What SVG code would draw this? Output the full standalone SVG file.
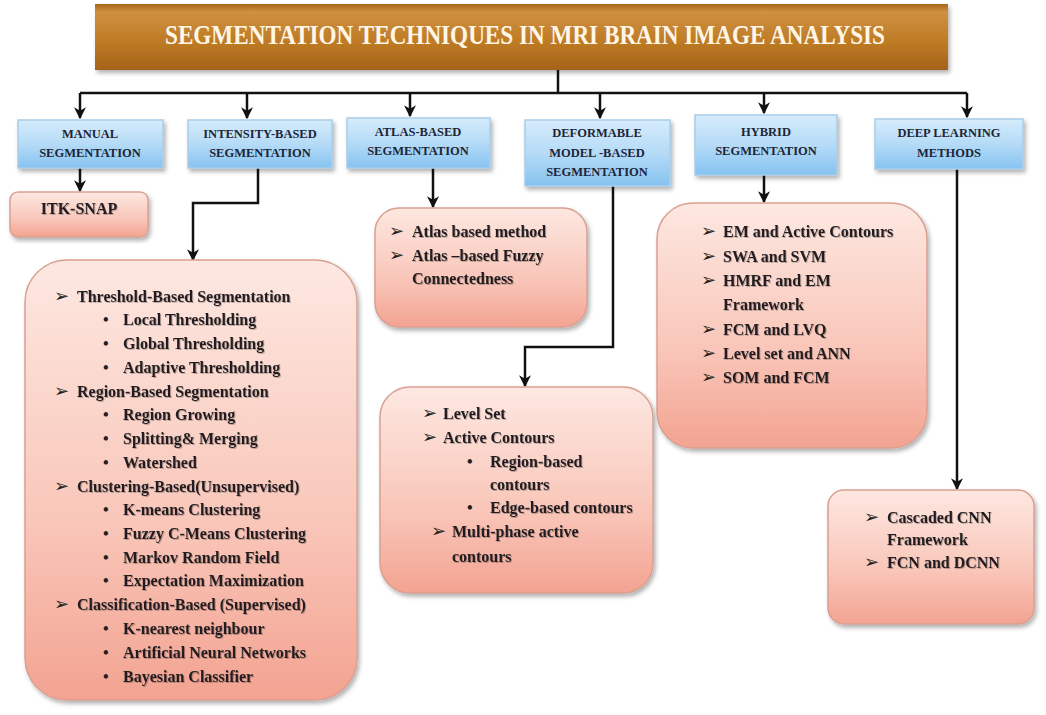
<svg xmlns="http://www.w3.org/2000/svg" width="1046" height="715" viewBox="0 0 1046 715">
<defs>
<linearGradient id="gTitle" x1="0" y1="0" x2="0" y2="1">
<stop offset="0" stop-color="#a9661c"/>
<stop offset="0.12" stop-color="#cf9040"/>
<stop offset="0.6" stop-color="#bd7a24"/>
<stop offset="1" stop-color="#a4621a"/>
</linearGradient>
<linearGradient id="gBlue" x1="0" y1="0" x2="0" y2="1">
<stop offset="0" stop-color="#d6ecfb"/>
<stop offset="0.5" stop-color="#b5dbf7"/>
<stop offset="1" stop-color="#86c3f0"/>
</linearGradient>
<linearGradient id="gPink" x1="0" y1="0" x2="0" y2="1">
<stop offset="0" stop-color="#fde8e1"/>
<stop offset="0.6" stop-color="#f9c6b9"/>
<stop offset="1" stop-color="#f3a391"/>
</linearGradient>
<filter id="shadow" x="-10%" y="-10%" width="125%" height="125%">
<feDropShadow dx="2" dy="3" stdDeviation="2" flood-color="#000" flood-opacity="0.3"/>
</filter>
<filter id="tshadow" x="-5%" y="-20%" width="110%" height="150%">
<feDropShadow dx="1" dy="1" stdDeviation="0.6" flood-color="#000" flood-opacity="0.25"/>
</filter>
<marker id="arr" viewBox="0 0 10 10" refX="9" refY="5" markerWidth="12" markerHeight="12" markerUnits="userSpaceOnUse" orient="auto">
<path d="M0,0 L10,5 L0,10 L3,5 z" fill="#111"/>
</marker>
</defs>
<style>
.hdr{fill:url(#gBlue);stroke:#a9cde9;stroke-width:1.5;filter:url(#shadow)}
.pink{fill:url(#gPink);stroke:#d9a092;stroke-width:1.5;filter:url(#shadow)}
.ht{font-family:"Liberation Serif","Times New Roman",serif;font-weight:bold;font-size:12.5px;fill:#1d2538;text-anchor:middle}
.bt{font-family:"Liberation Serif","Times New Roman",serif;font-weight:bold;font-size:16px;fill:#231f20;filter:url(#tshadow)}
.sym{font-family:"DejaVu Sans",sans-serif;font-size:18px;fill:#231f20}
.dot{font-family:"Liberation Serif",serif;font-size:16px;fill:#231f20;font-weight:bold}
.conn{fill:none;stroke:#111;stroke-width:2.5}
</style>
<rect width="1046" height="715" fill="#ffffff"/>

<g id="title">
<rect x="95" y="4" width="853" height="66" fill="url(#gTitle)" filter="url(#shadow)"/>
<text x="525" y="44" text-anchor="middle" textLength="720" lengthAdjust="spacingAndGlyphs" style="font-family:'Liberation Serif','Times New Roman',serif;font-weight:bold;font-size:27px;fill:#fff6e8">SEGMENTATION TECHNIQUES IN MRI BRAIN IMAGE ANALYSIS</text>
</g>

<g id="connectors">
<path class="conn" d="M558,70 V93"/>
<path class="conn" d="M80,93 H967"/>
<path class="conn" d="M80,93 V118" marker-end="url(#arr)"/>
<path class="conn" d="M247,93 V118" marker-end="url(#arr)"/>
<path class="conn" d="M410,93 V116" marker-end="url(#arr)"/>
<path class="conn" d="M600,93 V118" marker-end="url(#arr)"/>
<path class="conn" d="M764,93 V113" marker-end="url(#arr)"/>
<path class="conn" d="M967,93 V117" marker-end="url(#arr)"/>
<path class="conn" d="M80,168 V191" marker-end="url(#arr)"/>
<path class="conn" d="M258,168 V203 H193 V260" marker-end="url(#arr)"/>
<path class="conn" d="M433,168 V207" marker-end="url(#arr)"/>
<path class="conn" d="M613,186 V347 H525 V386" marker-end="url(#arr)"/>
<path class="conn" d="M764,175 V202" marker-end="url(#arr)"/>
<path class="conn" d="M957,169 V489" marker-end="url(#arr)"/>
</g>

<g id="manual">
<rect class="hdr" x="18" y="120" width="145" height="48"/>
<text class="ht" x="90" y="138">MANUAL</text>
<text class="ht" x="90" y="157">SEGMENTATION</text>
</g>
<g id="intensity">
<rect class="hdr" x="188" y="120" width="144" height="48"/>
<text class="ht" x="260" y="138">INTENSITY-BASED</text>
<text class="ht" x="260" y="157">SEGMENTATION</text>
</g>
<g id="atlas">
<rect class="hdr" x="347" y="118" width="143" height="50"/>
<text class="ht" x="418" y="136">ATLAS-BASED</text>
<text class="ht" x="418" y="155">SEGMENTATION</text>
</g>
<g id="deformable">
<rect class="hdr" x="525" y="120" width="145" height="66"/>
<text class="ht" x="597" y="137">DEFORMABLE</text>
<text class="ht" x="597" y="157">MODEL -BASED</text>
<text class="ht" x="597" y="176">SEGMENTATION</text>
</g>
<g id="hybrid">
<rect class="hdr" x="695" y="115" width="142" height="60"/>
<text class="ht" x="766" y="136">HYBRID</text>
<text class="ht" x="766" y="155">SEGMENTATION</text>
</g>
<g id="deeplearning">
<rect class="hdr" x="875" y="119" width="148" height="50"/>
<text class="ht" x="949" y="137">DEEP LEARNING</text>
<text class="ht" x="949" y="157">METHODS</text>
</g>

<g id="itksnap">
<rect class="pink" x="10" y="192" width="138" height="45" rx="8"/>
<text class="bt" x="79" y="214" text-anchor="middle">ITK-SNAP</text>
</g>

<g id="intensity-list">
<rect class="pink" x="25" y="260" width="332" height="440" rx="42"/>
<text class="sym" x="54" y="302">➢</text><text class="bt" x="77" y="302">Threshold-Based Segmentation</text>
<text class="dot" x="103" y="325">•</text><text class="bt" x="123" y="325">Local Thresholding</text>
<text class="dot" x="103" y="349">•</text><text class="bt" x="123" y="349">Global Thresholding</text>
<text class="dot" x="103" y="373">•</text><text class="bt" x="123" y="373">Adaptive Thresholding</text>
<text class="sym" x="54" y="397">➢</text><text class="bt" x="77" y="397">Region-Based Segmentation</text>
<text class="dot" x="103" y="420">•</text><text class="bt" x="123" y="420">Region Growing</text>
<text class="dot" x="103" y="444">•</text><text class="bt" x="123" y="444">Splitting&amp; Merging</text>
<text class="dot" x="103" y="468">•</text><text class="bt" x="123" y="468">Watershed</text>
<text class="sym" x="54" y="492">➢</text><text class="bt" x="77" y="492">Clustering-Based(Unsupervised)</text>
<text class="dot" x="103" y="515">•</text><text class="bt" x="123" y="515">K-means Clustering</text>
<text class="dot" x="103" y="539">•</text><text class="bt" x="123" y="539">Fuzzy C-Means Clustering</text>
<text class="dot" x="103" y="563">•</text><text class="bt" x="123" y="563">Markov Random Field</text>
<text class="dot" x="103" y="586">•</text><text class="bt" x="123" y="586">Expectation Maximization</text>
<text class="sym" x="54" y="610">➢</text><text class="bt" x="77" y="610">Classification-Based (Supervised)</text>
<text class="dot" x="103" y="634">•</text><text class="bt" x="123" y="634">K-nearest neighbour</text>
<text class="dot" x="103" y="658">•</text><text class="bt" x="123" y="658">Artificial Neural Networks</text>
<text class="dot" x="103" y="682">•</text><text class="bt" x="123" y="682">Bayesian Classifier</text>
</g>

<g id="atlas-list">
<rect class="pink" x="375" y="208" width="212" height="119" rx="24"/>
<text class="sym" x="389" y="237">➢</text><text class="bt" x="412" y="237">Atlas based method</text>
<text class="sym" x="389" y="261">➢</text><text class="bt" x="412" y="261">Atlas –based Fuzzy</text>
<text class="bt" x="412" y="284">Connectedness</text>
</g>

<g id="deformable-list">
<rect class="pink" x="380" y="387" width="273" height="206" rx="30"/>
<text class="sym" x="422" y="419">➢</text><text class="bt" x="443" y="419">Level Set</text>
<text class="sym" x="422" y="443">➢</text><text class="bt" x="443" y="443">Active Contours</text>
<text class="dot" x="467" y="467">•</text><text class="bt" x="490" y="467">Region-based</text>
<text class="bt" x="490" y="490">contours</text>
<text class="dot" x="467" y="513">•</text><text class="bt" x="490" y="513">Edge-based contours</text>
<text class="sym" x="431" y="537">➢</text><text class="bt" x="452" y="537">Multi-phase active</text>
<text class="bt" x="452" y="562">contours</text>
</g>

<g id="hybrid-list">
<rect class="pink" x="657" y="203" width="270" height="245" rx="36"/>
<text class="sym" x="701" y="237">➢</text><text class="bt" x="723" y="237">EM and Active Contours</text>
<text class="sym" x="701" y="262">➢</text><text class="bt" x="723" y="262">SWA and SVM</text>
<text class="sym" x="701" y="286">➢</text><text class="bt" x="723" y="286">HMRF and EM</text>
<text class="bt" x="723" y="310">Framework</text>
<text class="sym" x="701" y="335">➢</text><text class="bt" x="723" y="335">FCM and LVQ</text>
<text class="sym" x="701" y="359">➢</text><text class="bt" x="723" y="359">Level set and ANN</text>
<text class="sym" x="701" y="383">➢</text><text class="bt" x="723" y="383">SOM and FCM</text>
</g>

<g id="deeplearning-list">
<rect class="pink" x="828" y="490" width="206" height="134" rx="16"/>
<text class="sym" x="864" y="523">➢</text><text class="bt" x="887" y="523">Cascaded CNN</text>
<text class="bt" x="887" y="545">Framework</text>
<text class="sym" x="864" y="568">➢</text><text class="bt" x="887" y="568">FCN and DCNN</text>
</g>
</svg>
